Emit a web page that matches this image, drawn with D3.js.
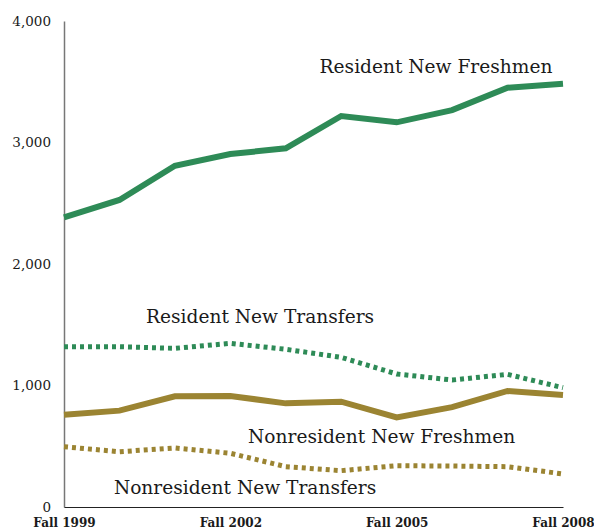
<!DOCTYPE html>
<html><head><meta charset="utf-8">
<script src="https://cdn.jsdelivr.net/npm/d3@7"></script>
<style>
html,body{margin:0;padding:0;background:#fff;}
svg{display:block;}
text{font-family:"DejaVu Serif",serif;fill:#1a1a1a;}
</style></head>
<body>
<svg id="chart" width="594" height="531"></svg>
<script>
const years = ["Fall 1999","Fall 2000","Fall 2001","Fall 2002","Fall 2003","Fall 2004","Fall 2005","Fall 2006","Fall 2007","Fall 2008"];
const xTickLabels = ["Fall 1999","Fall 2002","Fall 2005","Fall 2008"];
const yTicks = [0,1000,2000,3000,4000];
const residentFreshmen = [2384,2527,2809,2905,2952,3218,3166,3267,3451,3484];
const residentTransfers = [1319,1319,1306,1347,1298,1232,1095,1045,1092,982];
const nonresidentFreshmen = [760,793,911,914,853,867,738,822,955,922];
const nonresidentTransfers = [496,455,486,442,332,299,340,337,332,272];

const seriesNames = ["Resident New Freshmen","Resident New Transfers","Nonresident New Freshmen","Nonresident New Transfers"];
const seriesValues = [residentFreshmen,residentTransfers,nonresidentFreshmen,nonresidentTransfers];
const seriesColors = ["#2e8b57","#2e8b57","#9b8432","#9b8432"];
const seriesDashed = [false,true,false,true];
// label anchor: [year index, value] in data space
const labelPos = [[4.61,3570],[1.48,1515],[3.32,525],[0.9,105]];

const svg = d3.select("#chart");
const x = d3.scalePoint().domain(years).range([64,563]);
const y = d3.scaleLinear().domain([0,4000]).range([507,21]);

// y axis
const yAxis = svg.append("g").attr("transform","translate(64,0)")
  .call(d3.axisLeft(y).tickValues(yTicks).tickSize(0).tickPadding(13).tickFormat(d3.format(",")));
yAxis.select(".domain").attr("stroke","#777").attr("stroke-width",1.5);
yAxis.selectAll("text").style("font-family","DejaVu Serif").style("font-size","13.5px").attr("fill","#1a1a1a");

// x axis
const xAxis = svg.append("g").attr("transform","translate(0,507)")
  .call(d3.axisBottom(x).tickValues(xTickLabels).tickSize(0).tickPadding(11));
xAxis.select(".domain").attr("stroke","#222").attr("stroke-width",1.2);
xAxis.selectAll("text").style("font-family","DejaVu Serif").style("font-size","12px").style("font-weight","bold").attr("fill","#1a1a1a");

const line = d3.line().x((d,i)=>x(years[i])).y(d=>y(d));
const lx = d3.scaleLinear().domain([0,9]).range([64,563]);

seriesValues.forEach((vals,k)=>{
  svg.append("path").datum(vals)
    .attr("d",line)
    .attr("fill","none")
    .attr("stroke",seriesColors[k])
    .attr("stroke-width",seriesDashed[k]?5:6)
    .attr("stroke-dasharray",seriesDashed[k]?"4,4":null)
    .attr("stroke-linejoin","miter");
  svg.append("text")
    .attr("x",lx(labelPos[k][0]))
    .attr("y",y(labelPos[k][1]))
    .style("font-size","18.6px")
    .text(seriesNames[k]);
});
</script>
</body></html>
